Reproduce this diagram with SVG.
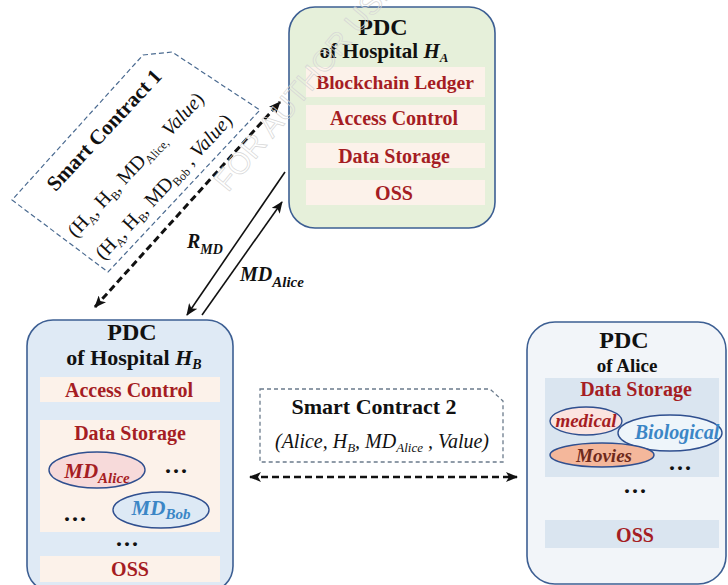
<svg xmlns="http://www.w3.org/2000/svg" width="728" height="585" viewBox="0 0 728 585">
<defs>
<style>
.box{stroke:#3d5f93;stroke-width:1.6}
.t{font-family:"Liberation Serif","Times New Roman",serif;font-weight:bold;text-anchor:middle}
.red{fill:#a51d23}
.blk{fill:#111}
.bi{font-style:italic}
.band-p{fill:#fcf2ea}
.band-b{fill:#dae5f0}
.ell{stroke:#2f4f8f;stroke-width:1.4}
.arr{stroke:#111;fill:none}
.dots{font-family:"Liberation Serif",serif;font-weight:bold;font-size:24px;letter-spacing:2px;fill:#111;text-anchor:middle}
</style>
<marker id="ah" viewBox="0 0 12 10" refX="11" refY="5" markerWidth="12" markerHeight="10" markerUnits="userSpaceOnUse" orient="auto-start-reverse">
<path d="M0,0 L12,5 L0,10 L3,5 z" fill="#111"/>
</marker>
</defs>
<rect width="728" height="585" fill="#ffffff"/>

<g id="pdc-hospital-a">
<rect class="box" x="289" y="7" width="206" height="221" rx="26" fill="#e6f0da"/>
<text class="t blk" x="383" y="35" font-size="24">PDC</text>
<text class="t blk" x="384" y="58" font-size="21">of Hospital <tspan class="bi">H</tspan><tspan class="bi" font-size="13" dy="4">A</tspan></text>
<rect class="band-p" x="306" y="67" width="179" height="30"/>
<text class="t red" x="395" y="89" font-size="19.5">Blockchain Ledger</text>
<rect class="band-p" x="306" y="105" width="179" height="25"/>
<text class="t red" x="394" y="125" font-size="20">Access Control</text>
<rect class="band-p" x="306" y="143" width="179" height="25"/>
<text class="t red" x="394" y="163" font-size="20">Data Storage</text>
<rect class="band-p" x="306" y="180" width="179" height="25"/>
<text class="t red" x="394" y="200" font-size="20">OSS</text>
</g>

<g id="pdc-hospital-b">
<rect class="box" x="27" y="320" width="206" height="272" rx="26" fill="#dfeaf5"/>
<text class="t blk" x="132" y="340" font-size="24">PDC</text>
<text class="t blk" x="134" y="365" font-size="22">of Hospital <tspan class="bi">H</tspan><tspan class="bi" font-size="14" dy="4">B</tspan></text>
<rect class="band-p" x="40" y="377" width="180" height="25"/>
<text class="t red" x="129" y="397" font-size="20">Access Control</text>
<rect class="band-p" x="40" y="420" width="180" height="112"/>
<text class="t red" x="130" y="440" font-size="20">Data Storage</text>
<ellipse class="ell" cx="97" cy="470" rx="48" ry="18" fill="#f7dada"/>
<text class="t red bi" x="97" y="478" font-size="21">MD<tspan font-size="15" dy="5">Alice</tspan></text>
<text class="dots" x="177" y="473">...</text>
<ellipse class="ell" cx="161" cy="510" rx="48" ry="18" fill="#dde9f5"/>
<text class="t bi" x="161" y="515" font-size="21" fill="#3b86c6">MD<tspan font-size="15" dy="4">Bob</tspan></text>
<text class="dots" x="76" y="521">...</text>
<text class="dots" x="128" y="546">...</text>
<rect class="band-p" x="40" y="556" width="180" height="26"/>
<text class="t red" x="130" y="576" font-size="20">OSS</text>
</g>

<g id="pdc-alice">
<rect class="box" x="527" y="322" width="199" height="262" rx="28" fill="#f2f5f9"/>
<text class="t blk" x="624" y="348" font-size="24">PDC</text>
<text class="t blk" x="627" y="372" font-size="19">of Alice</text>
<rect class="band-b" x="545" y="378" width="174" height="99"/>
<text class="t red" x="636" y="396" font-size="20">Data Storage</text>
<ellipse class="ell" cx="586" cy="421" rx="36" ry="14" fill="#fbe4e0"/>
<text class="t red bi" x="586" y="427" font-size="19">medical</text>
<ellipse class="ell" cx="670" cy="433" rx="52" ry="18" fill="#eef5fa"/>
<text class="t bi" x="677" y="439" font-size="20" fill="#3b86c6">Biological</text>
<ellipse class="ell" cx="602" cy="455" rx="52" ry="12" fill="#f4b79b"/>
<text class="t bi" x="604" y="462" font-size="19" fill="#6e2a1c">Movies</text>
<text class="dots" x="681" y="470">...</text>
<text class="dots" x="636" y="493">...</text>
<rect class="band-b" x="545" y="520" width="174" height="28"/>
<text class="t red" x="635" y="542" font-size="20">OSS</text>
</g>

<g id="smart-contract-1">
<polygon points="143,55 172,52 260,110 108,272 12,200" fill="none" stroke="#4a6a90" stroke-width="1.2" stroke-dasharray="5,3"/>
<text class="t blk" font-size="21" transform="translate(104,130) rotate(-47)" y="7">Smart Contract 1</text>
<text class="t blk" font-size="20" style="font-weight:normal" transform="translate(136,165) rotate(-47)" y="6">(H<tspan font-size="12" dy="4">A</tspan><tspan dy="-4">, H</tspan><tspan font-size="12" dy="4">B</tspan><tspan dy="-4">, MD</tspan><tspan font-size="12" dy="4">Alice,</tspan><tspan dy="-4"> </tspan><tspan font-style="italic">Value</tspan>)</text>
<text class="t blk" font-size="20" style="font-weight:normal" transform="translate(164,187) rotate(-47)" y="6">(H<tspan font-size="12" dy="4">A</tspan><tspan dy="-4">, H</tspan><tspan font-size="12" dy="4">B</tspan><tspan dy="-4">, MD</tspan><tspan font-size="12" dy="4">Bob</tspan><tspan dy="-4"> , </tspan><tspan font-style="italic">Value</tspan>)</text>
</g>

<g id="smart-contract-2">
<polygon points="260,389 490,389 503,401 503,462 260,462" fill="#ffffff" stroke="#6b7b8c" stroke-width="1.3" stroke-dasharray="4,3"/>
<text class="t blk" x="374" y="414" font-size="22">Smart Contract 2</text>
<text class="t blk bi" x="382" y="448" font-size="20" style="font-weight:normal">(Alice, H<tspan font-size="13" dy="4">B</tspan><tspan dy="-4">, MD</tspan><tspan font-size="13" dy="4">Alice</tspan><tspan dy="-4"> , Value)</tspan></text>
</g>

<g id="connectors">
<line class="arr" x1="95" y1="307" x2="280" y2="102" stroke-width="3" stroke-dasharray="7,4" marker-start="url(#ah)" marker-end="url(#ah)"/>
<line class="arr" x1="285" y1="172" x2="187" y2="315" stroke-width="1.6" marker-end="url(#ah)"/>
<line class="arr" x1="202" y1="315" x2="282" y2="202" stroke-width="1.6" marker-end="url(#ah)"/>
<line class="arr" x1="250" y1="477" x2="517" y2="477" stroke-width="2.6" stroke-dasharray="7,4" marker-start="url(#ah)" marker-end="url(#ah)"/>
<text class="t blk bi" x="187" y="248" font-size="20" style="text-anchor:start">R<tspan font-size="14" dy="6">MD</tspan></text>
<text class="t blk bi" x="240" y="281" font-size="20" style="text-anchor:start">MD<tspan font-size="15" dy="6">Alice</tspan></text>
</g>

<text x="228" y="193" transform="rotate(-50.5 228 193)" font-family="Liberation Sans, Arial, sans-serif" font-size="30" fill="none" stroke="#d6d6d6" stroke-width="0.7">FOR AUTHOR USE</text>
</svg>
